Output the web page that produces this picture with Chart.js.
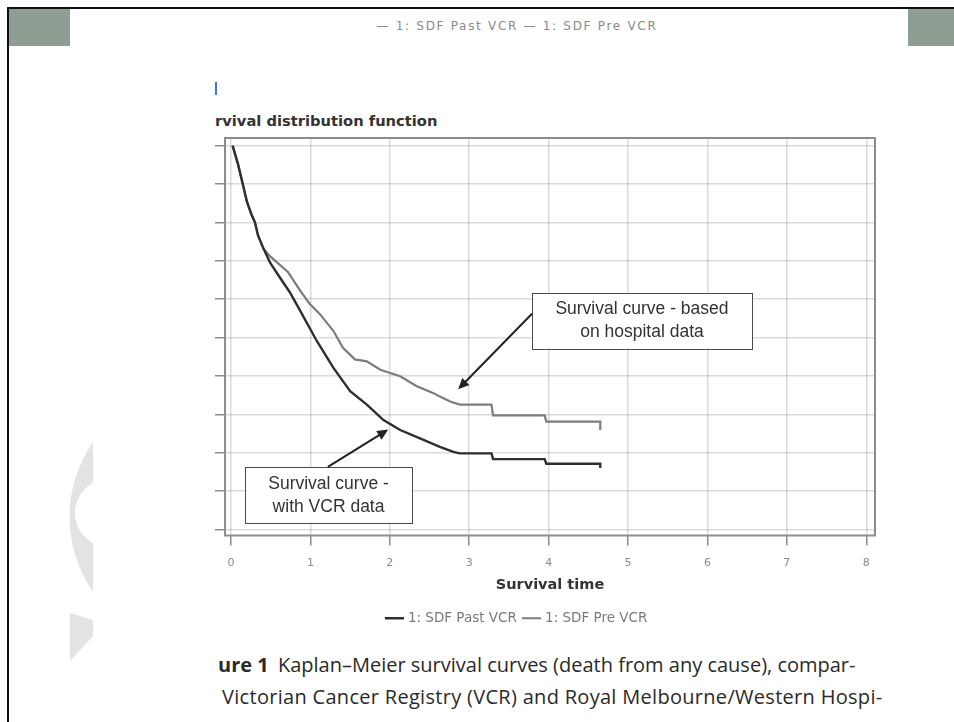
<!DOCTYPE html>
<html>
<head>
<meta charset="utf-8">
<script src="https://cdn.jsdelivr.net/npm/chart.js@4.4.1/dist/chart.umd.min.js"></script>
<style>
  html, body { margin: 0; padding: 0; background: #fff; }
  body { width: 954px; height: 722px; position: relative; overflow: hidden; font-family: "Liberation Sans", Arial, sans-serif; }
  .rule-top { position: absolute; left: 7px; top: 7px; width: 947px; height: 2px; background: #111; }
  .rule-left { position: absolute; left: 7px; top: 7px; width: 2px; height: 715px; background: #111; }
  .tab { position: absolute; top: 9px; height: 37px; background: #8f9e93; }
  .mark { position: absolute; left: 215px; top: 82px; width: 2px; height: 13px; background: #3b78d8; }
  .legend-top { position: absolute; left: 0; width: 1034px; top: 19px; text-align: center; font: 12px "DejaVu Sans", sans-serif; letter-spacing: 1.7px; color: #8a8a8a; }
  .ytitle { position: absolute; left: 215px; top: 112px; font: bold 14.7px "DejaVu Sans", sans-serif; color: #333; white-space: nowrap; }
  .caption { position: absolute; left: 218px; font: 20px "Open Sans", sans-serif; color: #2a2a2a; white-space: nowrap; }
  .caption b { font-weight: bold; margin-right: 4px; }
  #wrap { position: absolute; left: 150px; top: 128px; width: 734px; height: 516px; }
</style>
</head>
<body>
<div class="rule-top"></div>
<div class="rule-left"></div>
<div class="tab" style="left:9px; width:61px;"></div>
<div class="tab" style="left:908px; width:46px;"></div>

<!-- faint watermark shapes at the left edge of the slide -->
<svg style="position:absolute; left:0; top:0;" width="120" height="722">
  <defs><clipPath id="strip"><rect x="70" y="0" width="23" height="722"/></clipPath></defs>
  <g clip-path="url(#strip)" fill="#e3e3e3">
    <path fill-rule="evenodd" d="M200 386.5 a130.5 130.5 0 1 0 0.01 0 Z M109 479 a34 34 0 1 0 0.01 0 Z"/>
    <polygon points="70,613 93,620 93,636 70,661"/>
  </g>
</svg>

<div class="mark"></div>
<div class="legend-top">— 1: SDF Past VCR — 1: SDF Pre VCR</div>
<div class="ytitle">rvival distribution function</div>

<div id="wrap"><canvas id="km" width="734" height="516"></canvas></div>

<div class="caption" style="top:651px;"><b>ure 1</b> Kaplan–Meier survival curves (death from any cause), compar-</div>
<div class="caption" style="top:683px; left:222px; letter-spacing:0.3px;">Victorian Cancer Registry (VCR) and Royal Melbourne/Western Hospi-</div>

<script>
// Kaplan-Meier estimates (years, survival probability)
const vcrTime = [0.02, 0.09, 0.15, 0.20, 0.26, 0.30, 0.34, 0.41, 0.49, 0.60, 0.74, 0.87, 1.08, 1.29, 1.50, 1.71, 1.92, 2.13, 2.38, 2.63, 2.80, 2.88, 3.28, 3.30, 3.95, 3.97, 4.65, 4.65];
const vcrSurv = [1.00, 0.950, 0.898, 0.854, 0.819, 0.801, 0.766, 0.731, 0.696, 0.661, 0.618, 0.570, 0.491, 0.421, 0.360, 0.325, 0.285, 0.259, 0.237, 0.215, 0.202, 0.198, 0.198, 0.183, 0.183, 0.171, 0.171, 0.160];

const hospTime = [0.02, 0.09, 0.15, 0.20, 0.26, 0.30, 0.34, 0.41, 0.49, 0.60, 0.72, 0.87, 0.99, 1.12, 1.29, 1.41, 1.56, 1.71, 1.88, 2.13, 2.34, 2.55, 2.63, 2.76, 2.88, 3.28, 3.30, 3.95, 3.97, 4.65, 4.65];
const hospSurv = [1.00, 0.950, 0.898, 0.854, 0.819, 0.801, 0.766, 0.731, 0.712, 0.692, 0.670, 0.622, 0.588, 0.561, 0.517, 0.473, 0.443, 0.438, 0.416, 0.399, 0.373, 0.355, 0.346, 0.333, 0.325, 0.325, 0.297, 0.297, 0.281, 0.281, 0.259];

const seriesNames = ['1: SDF Past VCR', '1: SDF Pre VCR'];
const xTicks = [0, 1, 2, 3, 4, 5, 6, 7, 8];

// callout boxes, in data units: box = [left, top, right, bottom]
const notes = [
  { lines: ['Survival curve - based', 'on hospital data'], box: [3.79, 0.617, 6.56, 0.472], from: [3.79, 0.562], to: [2.86, 0.365] },
  { lines: ['Survival curve -', 'with VCR data'], box: [0.176, 0.163, 2.28, 0.018], from: [1.22, 0.163], to: [1.98, 0.26] }
];

const toPoints = (ts, ss) => ts.map((t, i) => ({ x: t, y: ss[i] }));

const frameAndNotes = {
  id: 'frameAndNotes',
  afterDraw(chart) {
    const { ctx, chartArea: a, scales: { x, y } } = chart;
    ctx.save();
    ctx.strokeStyle = '#8c8c8c';
    ctx.lineWidth = 2;
    ctx.strokeRect(a.left, a.top, a.right - a.left, a.bottom - a.top);

    notes.forEach(n => {
      const l = x.getPixelForValue(n.box[0]), t = y.getPixelForValue(n.box[1]);
      const r = x.getPixelForValue(n.box[2]), b = y.getPixelForValue(n.box[3]);
      ctx.fillStyle = '#fff';
      ctx.fillRect(l, t, r - l, b - t);
      ctx.strokeStyle = '#4a4a4a';
      ctx.lineWidth = 1;
      ctx.strokeRect(Math.round(l) + 0.5, Math.round(t) + 0.5, Math.round(r - l), Math.round(b - t));
      ctx.fillStyle = '#333';
      ctx.font = '17.5px "Liberation Sans", Arial, sans-serif';
      ctx.textAlign = 'center';
      ctx.textBaseline = 'middle';
      n.lines.forEach((s, i) => ctx.fillText(s, (l + r) / 2, t + 17 + i * 23));

      // arrow
      const x0 = x.getPixelForValue(n.from[0]), y0 = y.getPixelForValue(n.from[1]);
      const x1 = x.getPixelForValue(n.to[0]), y1 = y.getPixelForValue(n.to[1]);
      const ang = Math.atan2(y1 - y0, x1 - x0);
      const head = 11;
      ctx.strokeStyle = '#222';
      ctx.lineWidth = 2;
      ctx.beginPath();
      ctx.moveTo(x0, y0);
      ctx.lineTo(x1 - Math.cos(ang) * head * 0.8, y1 - Math.sin(ang) * head * 0.8);
      ctx.stroke();
      ctx.fillStyle = '#222';
      ctx.beginPath();
      ctx.moveTo(x1, y1);
      ctx.lineTo(x1 - head * Math.cos(ang) + 5 * Math.sin(ang), y1 - head * Math.sin(ang) - 5 * Math.cos(ang));
      ctx.lineTo(x1 - head * Math.cos(ang) - 5 * Math.sin(ang), y1 - head * Math.sin(ang) + 5 * Math.cos(ang));
      ctx.closePath();
      ctx.fill();
    });
    ctx.restore();
  }
};

const gridColor = 'rgba(0,0,0,0.14)';

new Chart(document.getElementById('km'), {
  type: 'line',
  data: {
    datasets: [
      { label: seriesNames[0], data: toPoints(vcrTime, vcrSurv), borderColor: '#2f2f2f', backgroundColor: '#2f2f2f', borderWidth: 2.4, pointRadius: 0, tension: 0 },
      { label: seriesNames[1], data: toPoints(hospTime, hospSurv), borderColor: '#7c7c7c', backgroundColor: '#7c7c7c', borderWidth: 2.2, pointRadius: 0, tension: 0 }
    ]
  },
  options: {
    responsive: false,
    animation: false,
    layout: { padding: { left: 10, right: 9, top: 10, bottom: 9 } },
    scales: {
      x: {
        type: 'linear',
        min: -0.076,
        max: 8.11,
        afterBuildTicks: s => { s.ticks = xTicks.map(v => ({ value: v })); },
        afterFit: s => { s.height = 68; },
        ticks: { color: '#8a8a8a', font: { family: 'DejaVu Sans', size: 11 }, padding: 11, maxRotation: 0 },
        grid: { color: gridColor, lineWidth: 1.5, tickLength: 10, tickColor: '#8c8c8c' },
        border: { display: false },
        title: { display: true, text: 'Survival time', color: '#333', font: { family: 'DejaVu Sans', size: 14.5, weight: 'bold' }, padding: { top: 6, bottom: 10 } }
      },
      y: {
        min: -0.016,
        max: 1.02,
        afterFit: s => { s.width = 65; },
        ticks: { stepSize: 0.1, includeBounds: false, display: false },
        grid: { color: gridColor, lineWidth: 1.5, tickLength: 10, tickColor: '#8c8c8c' },
        border: { display: false }
      }
    },
    plugins: {
      legend: {
        position: 'bottom',
        labels: { usePointStyle: true, pointStyle: 'line', color: '#7a7a7a', font: { family: 'DejaVu Sans', size: 13.5 }, padding: 8 }
      },
      tooltip: { enabled: false }
    }
  },
  plugins: [frameAndNotes]
});
</script>
</body>
</html>
